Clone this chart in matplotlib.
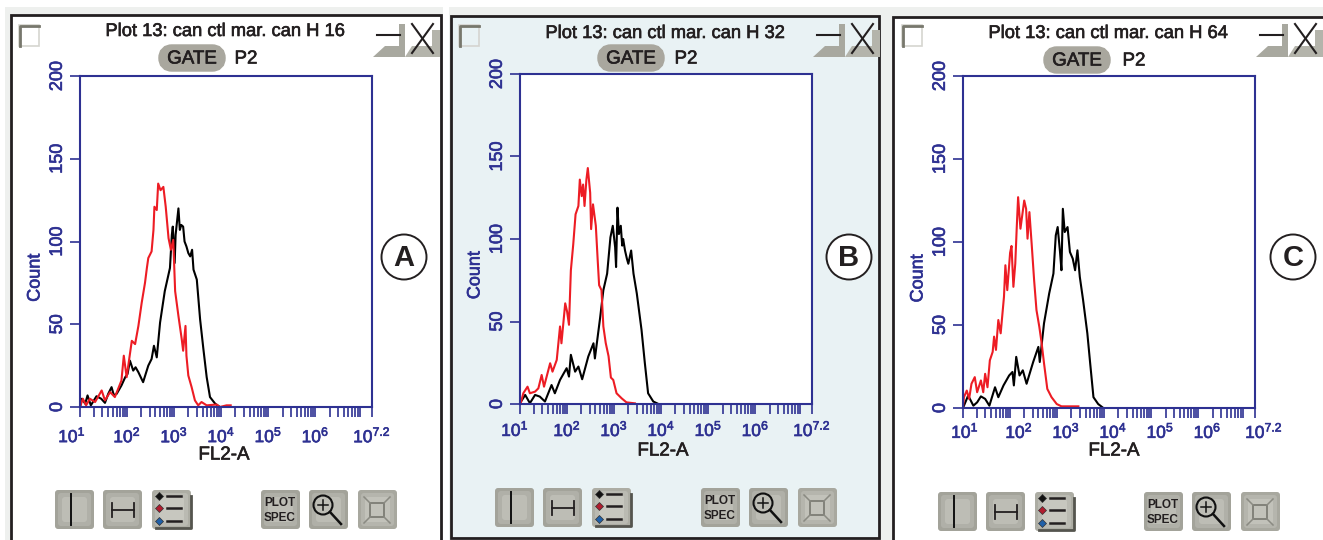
import matplotlib
matplotlib.use('Agg')
import matplotlib.pyplot as plt
import matplotlib.patheffects as pe
from matplotlib.patches import Rectangle, FancyBboxPatch, Circle, Polygon
from matplotlib.ticker import LogLocator, NullFormatter
from matplotlib.transforms import ScaledTranslation

plt.rcParams['font.family'] = ['Liberation Sans', 'DejaVu Sans']
plt.rcParams['mathtext.default'] = 'regular'

W, H = 1323, 540
BLUE = '#2e3192'
DARK = '#231f20'

# FL2-A position (log10) and count
black_a_log = [1.0, 1.04, 1.11, 1.16, 1.23, 1.35, 1.45, 1.53, 1.60, 1.67, 1.72, 1.78, 1.88, 1.96, 2.01, 2.06, 2.13, 2.18, 2.24, 2.34, 2.45, 2.52, 2.57, 2.63, 2.70, 2.80, 2.91, 2.95, 2.97, 3.01, 3.03, 3.09, 3.12, 3.15, 3.19, 3.22, 3.26, 3.30, 3.34, 3.38, 3.41, 3.48, 3.55, 3.62, 3.69, 3.76, 3.87, 3.97]
black_a_count = [0, 5, 2, 7, 1, 6.5, 5, 2.5, 8, 12, 7, 8, 13, 18, 20, 28, 22, 24, 21, 15, 25, 29, 37, 30, 51, 70, 84, 104, 109, 87, 104, 120, 107, 110, 109, 100, 97, 93, 91, 95, 83, 77, 53, 35, 18, 6, 2, 0]
red_a_log = [1.0, 1.06, 1.13, 1.21, 1.32, 1.46, 1.53, 1.64, 1.74, 1.88, 1.93, 1.99, 2.10, 2.17, 2.24, 2.31, 2.38, 2.42, 2.45, 2.52, 2.56, 2.58, 2.63, 2.66, 2.71, 2.77, 2.82, 2.88, 2.93, 2.98, 3.02, 3.09, 3.16, 3.19, 3.24, 3.26, 3.30, 3.37, 3.44, 3.51, 3.58, 3.69, 3.90, 3.97, 4.11, 4.20]
red_a_count = [0, 5, 1, 5, 3, 10, 4, 9, 6, 16, 31, 18, 40, 38, 49, 63, 75, 84, 90, 94, 107, 121, 119, 135, 131, 133, 121, 102, 95, 101, 70, 55, 41, 34, 49, 31, 19, 12, 4, 1, 3, 1, 1.5, 0, 1, 1]

black_b_log = [1.0, 1.02, 1.11, 1.21, 1.32, 1.42, 1.53, 1.67, 1.74, 1.85, 1.99, 2.04, 2.08, 2.17, 2.24, 2.32, 2.45, 2.56, 2.59, 2.70, 2.77, 2.85, 2.92, 2.97, 3.02, 3.04, 3.07, 3.10, 3.14, 3.17, 3.19, 3.23, 3.27, 3.30, 3.36, 3.41, 3.48, 3.58, 3.65, 3.72, 3.83, 3.94]
black_b_count = [0, 1.4, 5.5, 0.5, 5.5, 4.5, 1.5, 11.5, 6.5, 14.6, 21.7, 16.6, 29.8, 19.6, 22.7, 15, 28.8, 36.8, 27.6, 52, 69, 79, 101, 108, 95, 83, 119, 103, 108, 96, 100, 93, 88, 85, 93, 79, 67, 45, 25, 6.5, 1.5, 0]
red_b_log = [1.0, 1.02, 1.07, 1.16, 1.21, 1.32, 1.39, 1.46, 1.51, 1.64, 1.69, 1.78, 1.85, 1.88, 1.96, 2.0, 2.04, 2.08, 2.13, 2.18, 2.24, 2.27, 2.31, 2.34, 2.37, 2.41, 2.44, 2.49, 2.51, 2.55, 2.61, 2.65, 2.68, 2.73, 2.77, 2.82, 2.88, 2.93, 2.98, 3.05, 3.16, 3.26, 3.44]
red_b_count = [0, 1, 6.5, 10.5, 6.5, 7.5, 9.5, 17.6, 10.5, 24.7, 19.6, 26.7, 47, 36.8, 61, 56, 48, 81, 96.6, 115, 120, 136, 126, 133, 120, 136, 143, 128, 106, 121, 108, 87, 72, 69, 47, 37, 29, 16, 14.6, 6.5, 3.4, 1, 0.4]

black_c_log = [1.0, 1.02, 1.11, 1.22, 1.30, 1.38, 1.47, 1.56, 1.68, 1.75, 1.86, 1.98, 2.05, 2.08, 2.13, 2.20, 2.27, 2.35, 2.49, 2.60, 2.63, 2.72, 2.83, 2.92, 2.97, 3.01, 3.06, 3.09, 3.12, 3.16, 3.22, 3.27, 3.33, 3.38, 3.43, 3.48, 3.55, 3.64, 3.70, 3.77, 3.87, 3.98]
black_c_count = [0, 1.4, 7.5, 1.4, 3.4, 7, 5.5, 1.4, 12.5, 6.5, 13.6, 19.6, 21.7, 13.6, 30.8, 19.6, 22.7, 14.6, 27.7, 36.8, 27.7, 51, 69, 81, 104, 109, 94, 83, 120, 106, 109, 94, 90, 83, 95, 79, 65, 45, 27, 6.5, 2.4, 0]
red_c_log = [1.0, 1.02, 1.08, 1.13, 1.18, 1.25, 1.30, 1.38, 1.43, 1.47, 1.52, 1.57, 1.63, 1.66, 1.70, 1.75, 1.80, 1.87, 1.90, 1.94, 2.0, 2.03, 2.07, 2.11, 2.14, 2.17, 2.22, 2.30, 2.34, 2.37, 2.41, 2.46, 2.51, 2.56, 2.62, 2.67, 2.72, 2.79, 2.88, 2.99, 3.09, 3.45]
red_c_count = [0, 6.5, 10.5, 5.5, 14.6, 18.6, 9.5, 16.6, 9.5, 20.6, 12.5, 28.7, 33.8, 43, 35, 53, 45, 67, 86, 71, 93.5, 97.6, 73, 87, 108, 127, 108, 125, 120, 102, 118, 98, 77, 59, 49, 39, 27, 11.5, 6.5, 2.4, 1, 1]

titles = ['Plot 13: can ctl mar. can H 16', 'Plot 13: can ctl mar. can H 32', 'Plot 13: can ctl mar. can H 64']
letters = ['A', 'B', 'C']
y_ticks = [0, 50, 100, 150, 200]
x_tick_pos = [10, 100, 1e3, 1e4, 1e5, 1e6, 10**7.2]
x_tick_labels = ['$10^{1}$', '$10^{2}$', '$10^{3}$', '$10^{4}$', '$10^{5}$', '$10^{6}$', '$10^{7.2}$']

fig = plt.figure(figsize=(W / 100, H / 100), dpi=100, facecolor='white')
bg = fig.add_axes([0, 0, 1, 1])
bg.set_xlim(0, W)
bg.set_ylim(H, 0)
bg.axis('off')

# a thin stroke makes the text as heavy as in the screenshot
heavy = [pe.withStroke(linewidth=0.45, foreground=DARK)]
heavy_blue = [pe.withStroke(linewidth=0.45, foreground=BLUE)]


def button(x, y, w=39, h=39, shade=0):
    for inset, col in [(0, '#a3a39a'), (3, '#b0b0a8'), (7, '#bdbdb5')]:
        c = '#%02x%02x%02x' % tuple(min(255, int(col[i:i + 2], 16) + shade) for i in (1, 3, 5))
        bg.add_patch(FancyBboxPatch((x + inset + 3, y + inset + 3), w - 2 * inset - 6, h - 2 * inset - 6,
                                    boxstyle='round,pad=3', fc=c, ec='none'))


def panel(dx, title_y, gate_x, gate_y, p2_x, letter_x, label_x, label_y, tick_pad, tick_shift, first_shift,
          top, bottom, by, title, letter, black_log, black_count, red_log, red_count):
    # dx is the shift from panel A, the window furniture keeps the same spacing
    bg.text(dx + 225, title_y + 1.5, title, fontsize=13.2, color=DARK, ha='center', va='center', path_effects=heavy)
    bg.add_patch(FancyBboxPatch((gate_x - 24, gate_y - 4), 48, 8, boxstyle='round,pad=0,rounding_size=4',
                                fc='#a9a79e', ec='#a9a79e', lw=14))
    bg.text(gate_x, gate_y + 1, 'GATE', fontsize=13.5, color=DARK, ha='center', va='center', path_effects=heavy)
    bg.text(p2_x, gate_y + 1, 'P2', fontsize=13.5, color=DARK, ha='center', va='center', path_effects=heavy)

    # checkbox, minimise and close
    bg.add_patch(Rectangle((dx + 19, 25), 20, 21, fc='none', ec='#d5d5d0', lw=1.2))
    bg.plot([dx + 20, dx + 20, dx + 39], [46, 26, 26], color='#77776c', lw=2)
    bg.add_patch(Polygon([(dx + 373, 57), (dx + 385, 46), (dx + 399, 46), (dx + 399, 24), (dx + 405, 24), (dx + 405, 57)],
                         fc='#a8a89f', ec='none'))
    bg.add_patch(Polygon([(dx + 405, 57), (dx + 412, 46), (dx + 432, 46), (dx + 432, 30), (dx + 440, 30), (dx + 440, 57)],
                         fc='#b4b4ab', ec='none'))
    bg.plot([dx + 377, dx + 400], [35, 35], color=DARK, lw=1.5)
    bg.plot([dx + 412, dx + 433], [24, 53], color=DARK, lw=1.5)
    bg.plot([dx + 433, dx + 412], [24, 53], color=DARK, lw=1.5)
    bg.add_patch(Circle((letter_x, 257), 22.5, fc='white', ec=DARK, lw=1.4))
    bg.text(letter_x, 258, letter, fontsize=21, fontweight='bold', color=DARK, ha='center', va='center')

    # buttons
    for bx in [55, 103, 261, 309]:
        button(dx + bx, by)
    button(dx + 152, by, shade=10)
    bg.plot([dx + 156, dx + 191, dx + 191], [by + 38, by + 38, by + 6], color='#55554e', lw=2)
    button(dx + 358, by, shade=5)
    bg.plot([dx + 71, dx + 71], [by + 4, by + 35], color='#111111', lw=1.4)
    bg.plot([dx + 112, dx + 134], [by + 20, by + 20], color=DARK, lw=1.3)
    bg.plot([dx + 112, dx + 112], [by + 13, by + 27], color=DARK, lw=1.3)
    bg.plot([dx + 134, dx + 134], [by + 13, by + 27], color=DARK, lw=1.3)
    for off, c in zip([6, 18, 31], ['#111111', '#b01c2e', '#2060a8']):
        bg.plot([dx + 159], [by + off], 'D', ms=4, color=c, mec='#333333', mew=0.5)
        bg.plot([dx + 167, dx + 181], [by + off, by + off], color=DARK, lw=1.8)
    bg.text(dx + 280, by + 13, 'PLOT', fontsize=8.5, fontweight='bold', color=DARK, ha='center', va='center')
    bg.text(dx + 280, by + 28, 'SPEC', fontsize=8.5, fontweight='bold', color=DARK, ha='center', va='center')
    bg.add_patch(Circle((dx + 323, by + 15), 9.5, fc='none', ec='#111111', lw=1.5))
    bg.plot([dx + 330, dx + 341], [by + 22, by + 34], color='#111111', lw=1.8)
    bg.plot([dx + 318, dx + 328], [by + 15, by + 15], color='#111111', lw=1.1)
    bg.plot([dx + 323, dx + 323], [by + 10, by + 20], color='#111111', lw=1.1)
    bg.add_patch(Rectangle((dx + 370, by + 13), 14, 14, fc='none', ec='#7d7d75', lw=1.3))
    for x1, y1, x2, y2 in [(364, 7, 370, 13), (390, 7, 384, 13), (364, 33, 370, 27), (390, 33, 384, 27)]:
        bg.plot([dx + x1, dx + x2], [by + y1, by + y2], color='#8a8a82', lw=1.1)

    ax = fig.add_axes([(dx + 80) / W, 1 - bottom / H, 292 / W, (bottom - top) / H])
    ax.set_facecolor('white')
    ax.plot([10**v for v in black_log], black_count, color='black', lw=1.5, zorder=2)
    ax.plot([10**v for v in red_log], red_count, color='#ed1c24', lw=1.5, zorder=3)
    ax.set_xscale('log')
    ax.set_xlim(10, 10**7.2)
    ax.set_ylim(0, 200)
    ax.set_yticks(y_ticks)
    ax.set_yticklabels([str(v) for v in y_ticks], rotation=90, va='center', fontsize=13, color=BLUE, path_effects=heavy_blue)
    ax.set_xticks(x_tick_pos)
    ax.set_xticklabels(x_tick_labels, fontsize=12.5, color=BLUE, path_effects=heavy_blue)
    ax.xaxis.set_minor_locator(LogLocator(base=10, subs=[2, 3, 4, 5, 6, 7, 8, 9], numticks=20))
    ax.xaxis.set_minor_formatter(NullFormatter())
    ax.tick_params(axis='both', which='both', direction='out', length=7.2, width=1.2, color=BLUE)
    ax.tick_params(axis='x', which='major', pad=tick_pad)
    ax.tick_params(axis='y', pad=3)
    for i, lab in enumerate(ax.get_xticklabels()):
        shift = first_shift if i == 0 else tick_shift
        lab.set_transform(lab.get_transform() + ScaledTranslation(shift / 100, 0, fig.dpi_scale_trans))
    for s in ax.spines.values():
        s.set_color(BLUE)
        s.set_linewidth(1.5)
        s.set_zorder(5)
    ax.set_ylabel('Count', fontsize=13, color=BLUE, path_effects=heavy_blue)
    ax.yaxis.set_label_coords(-0.125, 0.39)
    ax.set_xlabel('FL2-A', fontsize=13.5, color=DARK, path_effects=heavy)
    ax.xaxis.set_label_coords((label_x - dx - 80) / 292, -(label_y - bottom) / (bottom - top))
    ax.xaxis.label.set_va('center')
    return ax


# window frames
bg.add_patch(Rectangle((5, 7), 1318, 533, fc='#eef0ee', ec='none'))
bg.add_patch(Rectangle((11, 15), 430, 530, fc='white', ec=DARK, lw=2))
bg.add_patch(Rectangle((442.5, 7), 6, 533, fc='white', ec='none'))
bg.add_patch(Rectangle((451, 16), 428, 522, fc='#e9f2f4', ec=DARK, lw=2))
bg.add_patch(Rectangle((893, 17), 440, 530, fc='white', ec=DARK, lw=2))

panel(0, 30, 192, 58, 246, 404, 224, 455, 6, 0, -8, 76, 407, 490, titles[0], letters[0], black_a_log, black_a_count, red_a_log, red_a_count)
panel(440, 32, 631, 58, 686, 849, 663, 451, 3.7, 0, -5, 74, 404, 488, titles[1], letters[1], black_b_log, black_b_count, red_b_log, red_b_count)
panel(883, 32, 1077, 60, 1134, 1293, 1114, 451, 2.2, 9, 2, 76, 408, 492, titles[2], letters[2], black_c_log, black_c_count, red_c_log, red_c_count)

fig.savefig('out.png', dpi=100)
